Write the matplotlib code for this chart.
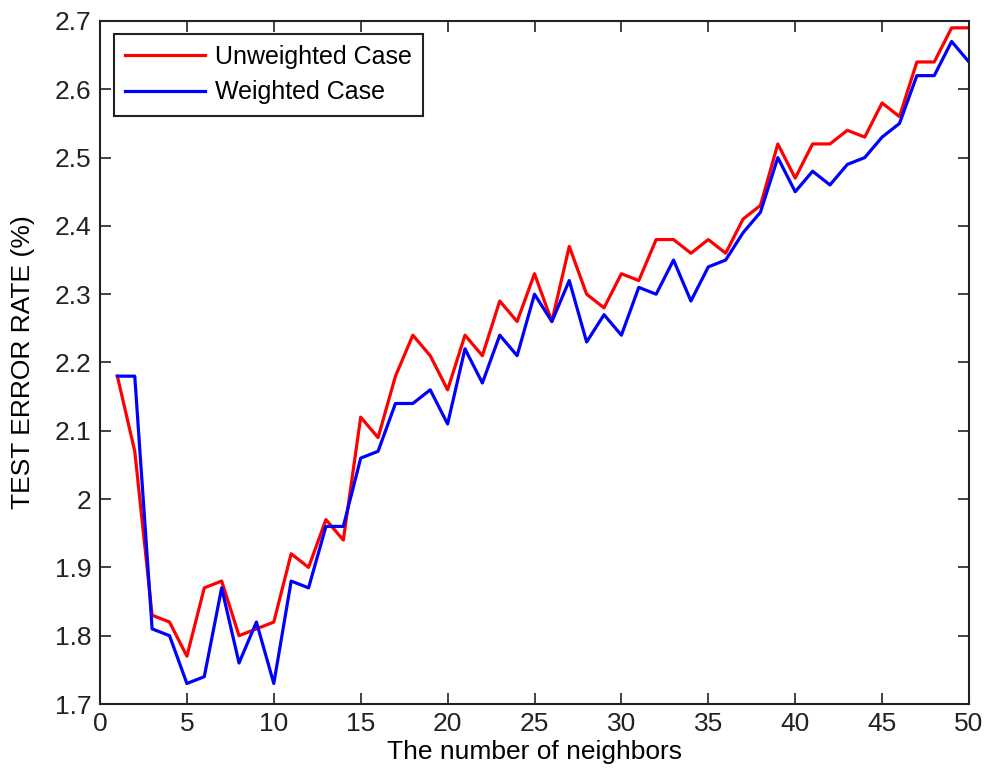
import matplotlib
matplotlib.use("Agg")
import matplotlib.pyplot as plt
from matplotlib import font_manager

neighbors = list(range(1, 51))
unweighted = [2.18, 2.07, 1.83, 1.82, 1.77, 1.87, 1.88, 1.80, 1.81, 1.82,
              1.92, 1.90, 1.97, 1.94, 2.12, 2.09, 2.18, 2.24, 2.21, 2.16,
              2.24, 2.21, 2.29, 2.26, 2.33, 2.26, 2.37, 2.30, 2.28, 2.33,
              2.32, 2.38, 2.38, 2.36, 2.38, 2.36, 2.41, 2.43, 2.52, 2.47,
              2.52, 2.52, 2.54, 2.53, 2.58, 2.56, 2.64, 2.64, 2.69, 2.69]
weighted = [2.18, 2.18, 1.81, 1.80, 1.73, 1.74, 1.87, 1.76, 1.82, 1.73,
            1.88, 1.87, 1.96, 1.96, 2.06, 2.07, 2.14, 2.14, 2.16, 2.11,
            2.22, 2.17, 2.24, 2.21, 2.30, 2.26, 2.32, 2.23, 2.27, 2.24,
            2.31, 2.30, 2.35, 2.29, 2.34, 2.35, 2.39, 2.42, 2.50, 2.45,
            2.48, 2.46, 2.49, 2.50, 2.53, 2.55, 2.62, 2.62, 2.67, 2.64]
series_labels = ["Unweighted Case", "Weighted Case"]
xticks = [0, 5, 10, 15, 20, 25, 30, 35, 40, 45, 50]
yticks = [1.7, 1.8, 1.9, 2.0, 2.1, 2.2, 2.3, 2.4, 2.5, 2.6, 2.7]
ytick_labels = ["1.7", "1.8", "1.9", "2", "2.1", "2.2", "2.3", "2.4", "2.5", "2.6", "2.7"]

names = {f.name for f in font_manager.fontManager.ttflist}
narrow = "Liberation Sans Narrow" if "Liberation Sans Narrow" in names else "Liberation Sans"
plt.rcParams['font.family'] = ['Liberation Sans', 'DejaVu Sans']

fig = plt.figure(figsize=(9.85, 7.76), dpi=100)
ax = fig.add_axes([100/985, 72/776, 869/985, 683/776])

ax.plot(neighbors, unweighted, color=(1, 0, 0), lw=2.3, label=series_labels[0])
ax.plot(neighbors, weighted, color=(0, 0, 1), lw=2.3, label=series_labels[1])

ax.set_xlim(0, 50)
ax.set_ylim(1.7, 2.7)
ax.set_xticks(xticks)
ax.set_xticklabels([str(t) for t in xticks], fontsize=19, family=[narrow, 'DejaVu Sans'])
ax.set_yticks(yticks)
ax.set_yticklabels(ytick_labels, fontsize=19)
ax.tick_params(direction='in', length=8, width=1.2, top=True, right=True, pad=6, colors='#222222')
for s in ax.spines.values():
    s.set_linewidth(1.5)
    s.set_color('#222222')

ax.set_xlabel("The number of neighbors", fontsize=19, family=[narrow, 'DejaVu Sans'], labelpad=3)
ax.set_ylabel("TEST ERROR RATE (%)", fontsize=19, labelpad=14)

leg = ax.legend(loc='upper left', bbox_to_anchor=(0.0161, 0.981), borderaxespad=0,
                fontsize=18, handlelength=3.2, handletextpad=0.4, labelspacing=0.45,
                borderpad=0.45, fancybox=False, framealpha=1)
leg.get_frame().set_edgecolor('#222222')
leg.get_frame().set_linewidth(1.5)

fig.savefig("out.png", dpi=100)
